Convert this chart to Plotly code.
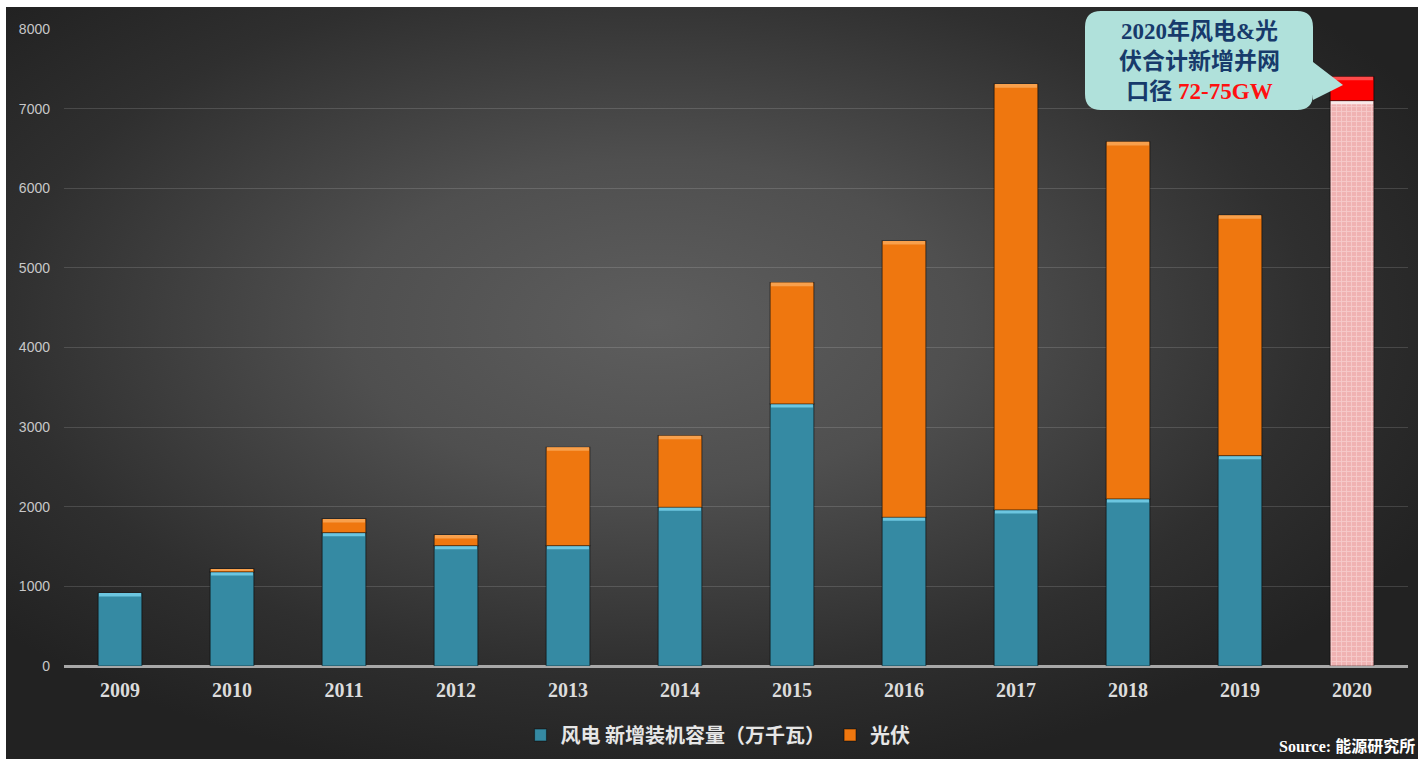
import base64
import plotly.graph_objects as go

# ---------------- data (万千瓦) ----------------
years = ['2009', '2010', '2011', '2012', '2013', '2014', '2015', '2016', '2017', '2018', '2019', '2020']
wind = [917, 1181, 1675, 1511, 1511, 1994, 3291, 1868, 1960, 2098, 2642, None]
solar = [None, 38, 172, 135, 1236, 899, 1524, 3471, 5348, 4485, 3020, None]
combined_2020_low = [None] * 11 + [7100]
combined_2020_range = [None] * 11 + [300]

wind_name = '风电 新增装机容量（万千瓦）'
solar_name = '光伏'
y_ticks = [0, 1000, 2000, 3000, 4000, 5000, 6000, 7000, 8000]

# ---------------- geometry helpers ----------------
W, H = 1418, 759
ML, MR, MT, MB = 64, 10, 29, 93
PW, PH = W - ML - MR, H - MT - MB


def px(xp):
    return (xp - ML) / PW


def py(yp):
    return (H - MB - yp) / PH


BW = 0.39
BEV = 45

fig = go.Figure()


def add_bar(y, base, color, bevel, name=None, show=False, pattern=None):
    marker = dict(color=color, line=dict(color='rgba(0,0,0,0.45)', width=1.2))
    if pattern:
        marker['pattern'] = pattern
    fig.add_trace(go.Bar(x=years, y=y, base=base, width=BW, marker=marker,
                         name=name, showlegend=show, hoverinfo='skip'))
    # bevel highlight at the top of each segment
    bh, bb = [], []
    for v, b in zip(y, base):
        if v is None:
            bh.append(None)
            bb.append(None)
        else:
            h = min(BEV, v * 0.6)
            bh.append(h)
            bb.append((b or 0) + v - h)
    fig.add_trace(go.Bar(x=years, y=bh, base=bb, width=BW * 0.96,
                         marker=dict(color=bevel, line=dict(width=0)),
                         showlegend=False, hoverinfo='skip'))


wind_base = [0 if w is not None else None for w in wind]
solar_base = [w if s is not None else None for w, s in zip(wind, solar)]
add_bar(wind, wind_base, '#358aa3', '#6cc6e0', wind_name, True)
add_bar(solar, solar_base, '#ef770f', '#f8a04c', solar_name, True)
add_bar(combined_2020_low, [0 if v is not None else None for v in combined_2020_low],
        '#f0b2b2', '#fbe9e9',
        pattern=dict(shape='+', fgcolor='#fbe1e1', size=5, solidity=0.35, fillmode='overlay'))
add_bar(combined_2020_range, combined_2020_low, '#fe0000', '#ff4a4a')

# ---------------- background (radial vignette) ----------------
svg = ('<svg xmlns="http://www.w3.org/2000/svg" width="1412" height="752" viewBox="0 0 1412 752" '
       'preserveAspectRatio="none"><defs><radialGradient id="g" cx="0.46" cy="0.42" r="0.62">'
       '<stop offset="0" stop-color="#5e5e5e"/><stop offset="0.35" stop-color="#4f4f4f"/>'
       '<stop offset="0.75" stop-color="#2f2f2f"/><stop offset="1" stop-color="#222222"/>'
       '</radialGradient></defs><rect width="1412" height="752" fill="url(#g)"/></svg>')
src = 'data:image/svg+xml;base64,' + base64.b64encode(svg.encode()).decode()
fig.add_layout_image(dict(source=src, xref='paper', yref='paper', x=px(6), y=py(7),
                          sizex=1412 / PW, sizey=752 / PH, xanchor='left', yanchor='top',
                          sizing='stretch', layer='below'))

# white page strips on the left and top (as in the original screenshot)
fig.add_shape(type='rect', xref='paper', yref='paper', x0=px(0), x1=px(6), y0=py(H), y1=py(0),
              fillcolor='#ffffff', line=dict(width=0), layer='below')
fig.add_shape(type='rect', xref='paper', yref='paper', x0=px(0), x1=px(W), y0=py(7), y1=py(0),
              fillcolor='#ffffff', line=dict(width=0), layer='below')

# ---------------- callout ----------------
L, R, T, B, r = 1085, 1313, 11, 110, 16
pts = [('M', L + r, T), ('L', R - r, T), ('Q', R, T, R, T + r), ('L', R, 62), ('L', 1343, 85),
       ('L', R, 100), ('L', R, B - r), ('Q', R, B, R - r, B), ('L', L + r, B),
       ('Q', L, B, L, B - r), ('L', L, T + r), ('Q', L, T, L + r, T)]
path = ''
for p in pts:
    cmd = p[0]
    coords = p[1:]
    segs = []
    for i in range(0, len(coords), 2):
        segs.append(f'{px(coords[i]):.5f},{py(coords[i + 1]):.5f}')
    path += cmd + ' ' + ' '.join(segs) + ' '
path += 'Z'
fig.add_shape(type='path', path=path, xref='paper', yref='paper',
              fillcolor='#b0e1db', line=dict(width=0), layer='above')

fig.add_annotation(x=px(1199), y=py(61), xref='paper', yref='paper', showarrow=False,
                   xanchor='center', yanchor='middle', align='center',
                   text="2020年风电&光<br>伏合计新增并网<br>口径 <span style='color:#ff1010'>72-75GW</span>",
                   font=dict(family='Liberation Serif, Noto Sans CJK SC', size=23,
                             color='#173a6b', weight='bold'))

fig.add_annotation(x=px(1417), y=py(746), xref='paper', yref='paper', showarrow=False,
                   xanchor='right', yanchor='middle',
                   text="Source: 能源研究所",
                   font=dict(family='Liberation Serif, Noto Sans CJK SC', size=16,
                             color='#ffffff', weight='bold'))

# ---------------- layout ----------------
fig.update_layout(
    width=W, height=H,
    margin=dict(l=ML, r=MR, t=MT, b=MB, pad=0, autoexpand=False),
    paper_bgcolor='#232323', plot_bgcolor='rgba(0,0,0,0)',
    barmode='overlay',
    showlegend=True,
    legend=dict(orientation='h', x=px(718), y=py(735), xanchor='center', yanchor='middle',
                font=dict(family='Noto Sans CJK SC', size=20, color='#e6e6e6', weight='bold'),
                bgcolor='rgba(0,0,0,0)', itemwidth=30, traceorder='normal'),
    xaxis=dict(type='category', range=[-0.5, 11.5], showgrid=False, zeroline=False,
               showline=False, ticks='', ticklabelstandoff=10, automargin=False,
               tickfont=dict(family='Liberation Serif', size=20, color='#dcdcdc', weight='bold'),
               fixedrange=True),
    yaxis=dict(range=[0, 8000], tickvals=y_ticks, showgrid=True,
               gridcolor='rgba(255,255,255,0.14)', gridwidth=1,
               zeroline=True, zerolinecolor='#a8a8a8', zerolinewidth=3,
               showline=False, ticks='', ticklabelstandoff=13, automargin=False,
               tickfont=dict(family='Liberation Sans', size=14, color='#c8c8c8'),
               fixedrange=True),
)

fig.write_html('out.html')
